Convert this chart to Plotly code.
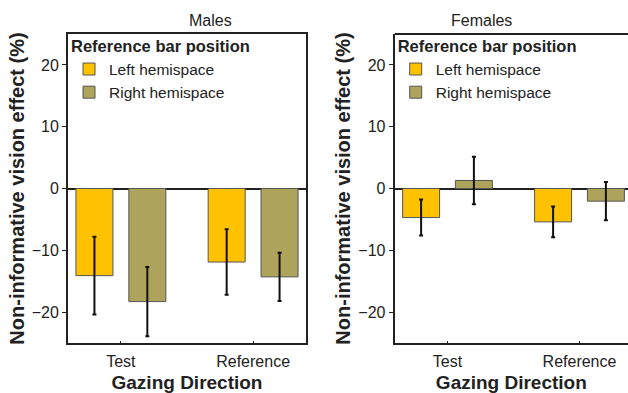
import plotly.graph_objects as go

categories = ["Test", "Reference"]
series_names = ["Left hemispace", "Right hemispace"]
colors = ["#FFC200", "#ADA35B"]

males_left = [-14.1, -11.9]
males_left_err = [6.3, 5.3]
males_right = [-18.3, -14.3]
males_right_err = [5.6, 3.9]

females_left = [-4.7, -5.4]
females_left_err = [2.9, 2.5]
females_right = [1.3, -2.05]
females_right_err = [3.85, 3.1]

yticks = [-20, -10, 0, 10, 20]

W, H = 628, 393
fig = go.Figure()

panels = [
    ("x", "y", "legend", [males_left, males_right], [males_left_err, males_right_err]),
    ("x2", "y2", "legend2", [females_left, females_right], [females_left_err, females_right_err]),
]
for xa, ya, lg, vals, errs in panels:
    for name, v, e, c in zip(series_names, vals, errs, colors):
        fig.add_trace(go.Bar(
            x=categories, y=v, name=name, xaxis=xa, yaxis=ya, legend=lg,
            marker=dict(color=c, line=dict(color="#555555", width=1)),
            error_y=dict(type="data", array=e, visible=True, color="#111111",
                         thickness=2, width=2),
        ))

# pixel layout
L1, R1 = 68, 306
L2 = 394.7
T, B = 34, 343
unit = 132.0  # px per category
x2_right = (W - L2) / unit - 0.4

axis_common = dict(showline=True, linecolor="#222222", linewidth=2, showgrid=False)
font = "Liberation Sans, Arial, sans-serif"
xtitle = dict(text="<b>Gazing Direction</b>", font=dict(size=19), standoff=7)
ytitle = dict(text="<b>Non-informative vision effect (%)</b>", font=dict(size=20), standoff=2)

xcommon = dict(ticks="inside", ticklen=2, tickcolor="#222222", tickfont=dict(size=16),
               ticklabelstandoff=3, title=xtitle)
ycommon = dict(range=[-25, 25], tickvals=yticks, ticks="outside", ticklen=4,
               tickcolor="#222222", tickfont=dict(size=16),
               zeroline=True, zerolinecolor="#222222", zerolinewidth=2, title=ytitle,
               domain=[1 - B / H, 1 - T / H])

legend_common = dict(y=1 - (T - 3) / H, xanchor="left", yanchor="top",
                     bgcolor="rgba(0,0,0,0)", font=dict(size=15.5),
                     title=dict(text="<b>Reference bar position</b>", font=dict(size=16.5)),
                     tracegroupgap=0)

fig.update_layout(
    width=W, height=H,
    margin=dict(l=0, r=0, t=0, b=0),
    plot_bgcolor="white", paper_bgcolor="white",
    barmode="group", bargap=0.2, bargroupgap=0.3,
    font=dict(family=font, size=16, color="#222222"),
    xaxis=dict(domain=[L1 / W, R1 / W], range=[-0.4, 1.4], mirror=True,
               anchor="y", **xcommon, **axis_common),
    yaxis=dict(mirror=True, anchor="x", **ycommon, **axis_common),
    xaxis2=dict(domain=[L2 / W, 1], range=[-0.4, x2_right], mirror=False,
                anchor="y2", **xcommon, **axis_common),
    yaxis2=dict(mirror=False, anchor="x2", **ycommon, **axis_common),
    legend=dict(x=(L1 + 1) / W, **legend_common),
    legend2=dict(x=(L2 + 1) / W, **legend_common),
    showlegend=True,
)

# top border of right panel (its right edge lies beyond the picture)
fig.add_shape(type="line", xref="paper", yref="paper", x0=L2 / W, x1=1,
              y0=1 - T / H, y1=1 - T / H, line=dict(color="#222222", width=2))

fig.add_annotation(text="Males", xref="paper", yref="paper", x=(L1 + R1) / 2 / W,
                   y=1 - 20 / H, showarrow=False, font=dict(size=16), yanchor="middle")
fig.add_annotation(text="Females", xref="paper", yref="paper", x=(L2 + 238 / 2) / W,
                   y=1 - 20 / H, showarrow=False, font=dict(size=16), yanchor="middle")

fig.write_html("out.html")
